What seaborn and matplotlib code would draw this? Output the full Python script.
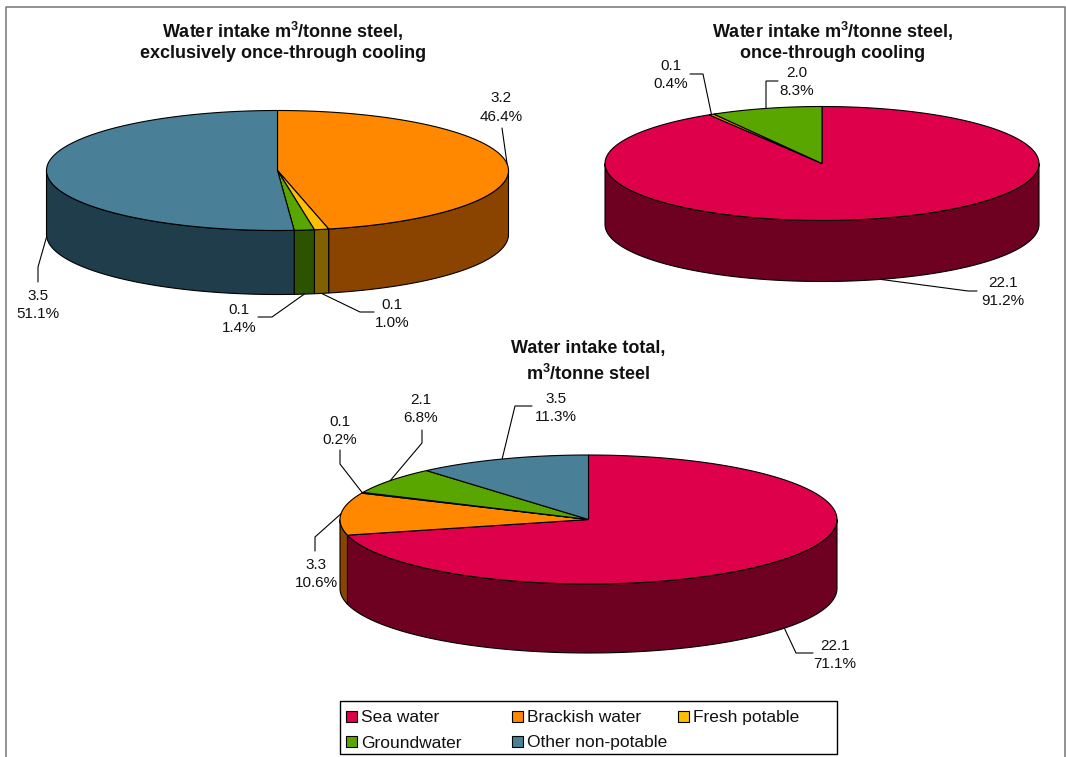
import numpy as np
import matplotlib
matplotlib.use("Agg")
import matplotlib.pyplot as plt
from matplotlib.patches import Polygon, Rectangle
import seaborn as sns

# Water sources with their top-face and side-wall colours
sources = ["Sea water", "Brackish water", "Fresh potable", "Groundwater", "Other non-potable"]
source_colors = ["#DE004A", "#FF8800", "#FFBE00", "#5AA600", "#4A7F98"]
source_side_colors = ["#6E0022", "#8A4400", "#806000", "#2D5300", "#1F3D4A"]

# Exclusively once-through cooling
excl_sources = ["Brackish water", "Fresh potable", "Groundwater", "Other non-potable"]
excl_volumes = [3.2, 0.1, 0.1, 3.5]
excl_shares = [46.4, 1.0, 1.4, 51.1]

# Once-through cooling
once_sources = ["Sea water", "Brackish water", "Groundwater"]
once_volumes = [22.1, 0.1, 2.0]
once_shares = [91.2, 0.4, 8.3]

# Total intake
total_sources = ["Sea water", "Brackish water", "Fresh potable", "Groundwater", "Other non-potable"]
total_volumes = [22.1, 3.3, 0.1, 2.1, 3.5]
total_shares = [71.1, 10.6, 0.2, 6.8, 11.3]

sns.set_theme(style="white")
plt.rcParams["font.family"] = ["Liberation Sans", "DejaVu Sans"]
plt.rcParams["mathtext.default"] = "regular"

palette = dict(zip(sources, sns.color_palette(source_colors)))
side_palette = dict(zip(sources, sns.color_palette(source_side_colors)))


def rim(cx, cy, rx, ry, deg):
    """Point on the pie's rim; angles run clockwise from twelve o'clock."""
    t = np.radians(deg)
    return cx + rx * np.sin(t), cy - ry * np.cos(t)


def draw_pie(ax, names, volumes, shares, cx, cy, rx, ry, depth, callouts):
    edges = 360 * np.cumsum([0] + list(shares)) / sum(shares)

    # Side wall: only the part of each slice facing the viewer
    for name, a0, a1 in zip(names, edges[:-1], edges[1:]):
        lo, hi = max(a0, 90), min(a1, 270)
        if lo >= hi:
            continue
        xs, ys = rim(cx, cy, rx, ry, np.linspace(lo, hi, 80))
        pts = np.r_[np.c_[xs, ys], np.c_[xs, ys + depth][::-1]]
        ax.add_patch(Polygon(pts, closed=True, fc=side_palette[name], ec="black", lw=0.8))

    # Top face
    for name, a0, a1 in zip(names, edges[:-1], edges[1:]):
        xs, ys = rim(cx, cy, rx, ry, np.linspace(a0, a1, 200))
        pts = np.r_[[[cx, cy]], np.c_[xs, ys]]
        ax.add_patch(Polygon(pts, closed=True, fc=palette[name], ec="black", lw=0.8))

    # Value labels with leader lines running from each slice's mid-angle
    for a0, a1, vol, share, (tx, ty, bends) in zip(edges[:-1], edges[1:], volumes, shares, callouts):
        mid = (a0 + a1) / 2
        ax_, ay_ = rim(cx, cy, rx, ry, mid)
        if 90 < mid < 270:
            ay_ += depth
        path = [(ax_, ay_)] + bends
        ax.plot(*zip(*path), color="black", lw=0.8, solid_joinstyle="miter")
        ax.text(tx, ty, f"{vol:.1f}\n{share:.1f}%", ha="center", va="center",
                fontsize=11, linespacing=1.42, color="#111111")


fig = plt.figure(figsize=(10.66, 7.57), dpi=100, facecolor="white")
ax = fig.add_axes([0, 0, 1, 1])
ax.set_xlim(0, 1066)
ax.set_ylim(757, 0)
ax.axis("off")

# Chart frame, open at the bottom
ax.plot([6, 6, 1065, 1065], [757, 7, 7, 757], color="#7F7F7F", lw=1.2)

draw_pie(ax, excl_sources, excl_volumes, excl_shares, 277.5, 170.5, 231, 60, 64, [
    (501, 107.5, [(502, 128)]),
    (392, 314, [(360, 312), (374, 312)]),
    (239, 319, [(272, 317), (258, 317)]),
    (38, 305, [(38, 267), (38, 282)]),
])
draw_pie(ax, once_sources, once_volumes, once_shares, 822, 163.5, 217, 57, 61, [
    (1003, 292, [(968, 291), (977, 291)]),
    (671, 75, [(703, 74), (690, 74)]),
    (797, 82, [(766, 81), (778, 81)]),
])
draw_pie(ax, total_sources, total_volumes, total_shares, 588.5, 519.5, 248.5, 64.5, 69, [
    (835, 655, [(796, 653), (813, 653)]),
    (316, 574, [(315, 537), (315, 551)]),
    (340, 431, [(340, 464), (340, 450)]),
    (421, 409, [(422, 443), (422, 430)]),
    (556, 408, [(515, 406), (532, 406)]),
])

# Chart titles
title_style = dict(ha="center", va="center", fontsize=13, fontweight="bold", color="#111111")
ax.text(283, 31, r"Water intake m$^{3}$/tonne steel,", **title_style)
ax.text(283, 54, "exclusively once-through cooling", **title_style)
ax.text(833, 31, r"Water intake m$^{3}$/tonne steel,", **title_style)
ax.text(833, 53, "once-through cooling", **title_style)
ax.text(588, 348, "Water intake total,", **title_style)
ax.text(588, 374, r"m$^{3}$/tonne steel", **title_style)

# Legend box with evenly spaced columns, filled row by row
ax.add_patch(Rectangle((339.5, 701), 497.5, 52.5, fc="white", ec="black", lw=1.0, zorder=3))
for i, source in enumerate(sources):
    row, col = divmod(i, 3)
    x0 = 345.5 + 166 * col
    y0 = 716 + 25.5 * row
    ax.add_patch(Rectangle((x0, y0 - 5.5), 11, 11, fc=palette[source], ec="black", lw=0.8, zorder=4))
    ax.text(x0 + 15.5, y0 + 6, source, ha="left", va="baseline", fontsize=12.5,
            color="#111111", zorder=4)

fig.savefig("out.png", dpi=100, facecolor="white")
